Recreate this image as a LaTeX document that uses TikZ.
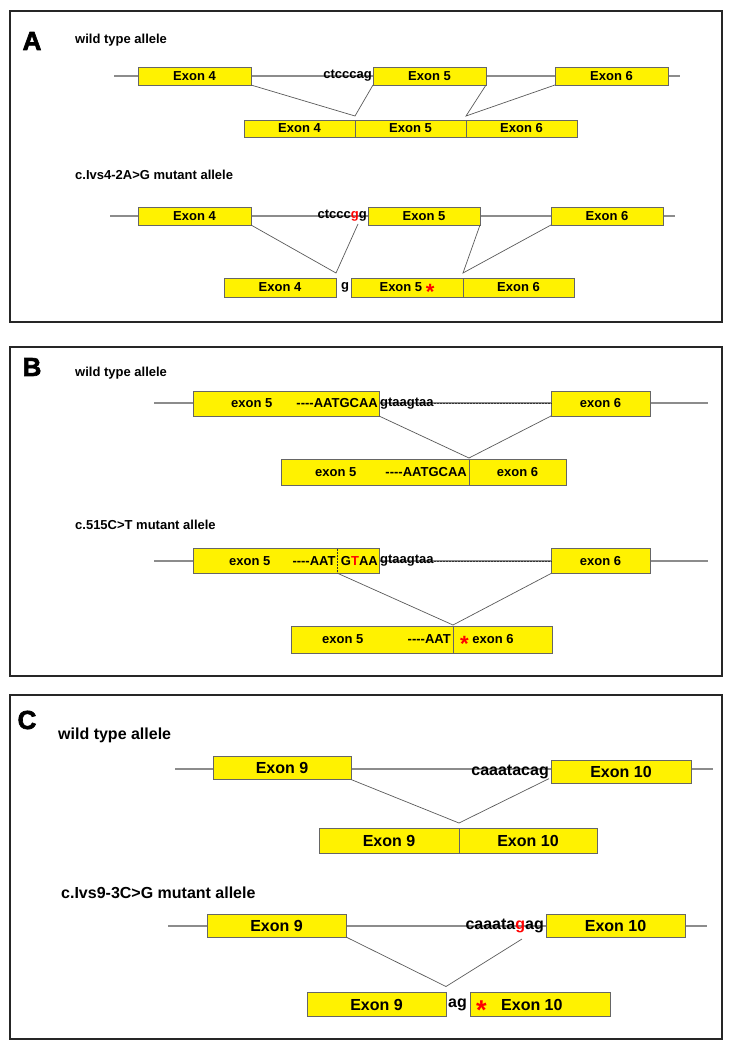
\documentclass[tikz,border=0pt]{standalone}
\usepackage{fontspec}
\setmainfont{Liberation Sans}
\newfontfamily\heavyfont{Liberation Sans Bold}[FakeBold=2.5]
\usetikzlibrary{positioning}
\newcommand{\redstar}{\textcolor{red}{\raisebox{-1.15ex}[0pt][0pt]{\scalebox{1.7}{*}}}}

\begin{document}
\begin{tikzpicture}[x=1pt, y=-1pt,
  panel/.style={draw=black!85, line width=1.3pt},
  intron/.style={draw=black!45, line width=1.2pt},
  splice/.style={draw=black!65, line width=0.7pt},
  dots/.style={draw=black!80, line width=0.8pt, dash pattern=on 2pt off 1pt},
  exon/.style={draw=black!60, fill=yellow, line width=0.8pt, inner sep=0pt, outer sep=0pt,
               minimum height=18pt, font=\fontsize{13}{15}\selectfont\bfseries},
  exonC/.style={exon, minimum height=23pt, font=\fontsize{16}{18}\selectfont\bfseries},
  txt/.style={inner sep=0pt, font=\fontsize{13}{15}\selectfont\bfseries},
  big/.style={inner sep=0pt, font=\fontsize{16}{18}\selectfont\bfseries},
  letter/.style={inner sep=0pt, font=\fontsize{26}{26}\selectfont\heavyfont},
  ]
\useasboundingbox (0,0) rectangle (733,1049);

% ---------------- panel A
\draw[panel] (10,11) rectangle (722,322);
\node[letter] (labA) at (32,41) {A};
\node[txt, anchor=west] (wtA) at (75,40) {wild type allele};
\coordinate (a1l) at (114,76);
\coordinate (a1r) at (680,76);
\draw[intron] (a1l) -- (a1r);
\node[exon, minimum width=113pt] (a14) at (194.5,76) {Exon 4};
\node[exon, minimum width=113pt] (a15) at (429.5,76) {Exon 5};
\node[exon, minimum width=113pt] (a16) at (611.5,76) {Exon 6};
\node[txt, left=1pt of a15] (a1seq) {ctcccag};
\node[exon, minimum width=111pt, minimum height=17pt] (s14) at (299.5,128.5) {Exon 4};
\node[exon, minimum width=111pt, minimum height=17pt, right=0pt of s14] (s15) {Exon 5};
\node[exon, minimum width=111pt, minimum height=17pt, right=0pt of s15] (s16) {Exon 6};
\draw[splice] (a14.south east) -- ([yshift=4pt]s14.north east) -- (a15.south west);
\draw[splice] (a15.south east) -- ([yshift=4pt]s15.north east) -- (a16.south west);

\node[txt, anchor=west] (mutA) at (75,175) {c.Ivs4-2A>G mutant allele};
\coordinate (a2l) at (110,216);
\coordinate (a2r) at (675,216);
\draw[intron] (a2l) -- (a2r);
\node[exon, minimum width=113pt] (m14) at (194.5,216) {Exon 4};
\node[exon, minimum width=112pt] (m15) at (424,216) {Exon 5};
\node[exon, minimum width=112pt] (m16) at (607,216) {Exon 6};
\node[txt, left=1pt of m15] (a2seq) {ctccc\textcolor{red}{g}g};
\coordinate (a2mut) at (358,224);
\node[exon, minimum width=112pt, minimum height=19pt] (t14) at (280,287.5) {Exon 4};
\node[txt, right=5pt of t14] (a2g) {g};
\node[exon, minimum width=112pt, minimum height=19pt] (t15) at (407,287.5) {Exon 5 \redstar};
\node[exon, minimum width=111pt, minimum height=19pt, right=0pt of t15] (t16) {Exon 6};
\draw[splice] (m14.south east) -- ([yshift=5pt]t14.north east) -- (a2mut);
\draw[splice] (m15.south east) -- ([yshift=5pt]t15.north east) -- (m16.south west);

% ---------------- panel B
\draw[panel] (10,347) rectangle (722,676);
\node[letter] (labB) at (32,367) {B};
\node[txt, anchor=west] (wtB) at (75,373) {wild type allele};
\coordinate (b1l) at (154,403);
\coordinate (b1r) at (708,403);
\draw[intron] (b1l) -- (b1r);
\node[exon, minimum width=186pt, minimum height=25pt] (b15) at (286,403.5) {};
\node[exon, minimum width=99pt, minimum height=25pt] (b16) at (600.5,403.5) {exon 6};
\node[txt, right=38pt of b15.west] (b1ex) {exon 5};
\node[txt, left=1pt of b15.east] (b1seq) {-{}-{}-{}-AATGCAA};
\node[txt, right=1pt of b15.east] (b1int) {gtaagtaa};
\draw[dots] (b1int.east) -- (b16.west);
\node[exon, minimum width=188pt, minimum height=26pt] (c15) at (375,472) {};
\node[exon, minimum width=97pt, minimum height=26pt, right=0pt of c15] (c16) {exon 6};
\node[txt, right=34pt of c15.west] (c1ex) {exon 5};
\node[txt, left=2pt of c15.east] (c1seq) {-{}-{}-{}-AATGCAA};
\draw[splice] (b15.south east) -- ([yshift=1pt]c15.north east) -- (b16.south west);

\node[txt, anchor=west] (mutB) at (75,525) {c.515C>T mutant allele};
\coordinate (b2l) at (154,561);
\coordinate (b2r) at (708,561);
\draw[intron] (b2l) -- (b2r);
\node[exon, minimum width=186pt, minimum height=25pt] (d15) at (286,561) {};
\node[exon, minimum width=99pt, minimum height=25pt] (d16) at (600.5,561) {exon 6};
\node[txt, right=36pt of d15.west] (d1ex) {exon 5};
\node[txt, left=1pt of d15.east] (d1mut) {G\textcolor{red}{T}AA};
\node[txt, left=5pt of d1mut] (d1seq) {-{}-{}-{}-AAT};
\coordinate (d1cuttop) at (337,549);
\coordinate (d1cut) at (337,573);
\draw[dots] (d1cuttop) -- (d1cut);
\node[txt, right=1pt of d15.east] (d1int) {gtaagtaa};
\draw[dots] (d1int.east) -- (d16.west);
\node[exon, minimum width=162pt, minimum height=27pt] (e15) at (372,639.5) {};
\node[exon, minimum width=99pt, minimum height=27pt, right=0pt of e15] (e16) {};
\node[txt, right=31pt of e15.west] (e1ex) {exon 5};
\node[txt, left=2pt of e15.east] (e1seq) {-{}-{}-{}-AAT};
\node[txt, right=7pt of e16.west] (e1ex6) {\redstar\ exon 6};
\draw[splice] (d1cut) -- ([yshift=1pt]e15.north east) -- (d16.south west);

% ---------------- panel C
\draw[panel] (10,695) rectangle (722,1039);
\node[letter] (labC) at (27,720) {C};
\node[big, anchor=west] (wtC) at (58,735) {wild type allele};
\coordinate (c1l) at (175,769);
\coordinate (c1r) at (713,769);
\draw[intron] (c1l) -- (c1r);
\node[exonC, minimum width=138pt] (f19) at (282,768) {Exon 9};
\node[exonC, minimum width=140pt] (f110) at (621,771.5) {Exon 10};
\node[big, left=2pt of f110] (f1seq) {caaatacag};
\node[exonC, minimum width=140pt, minimum height=25pt] (g19) at (389,840.5) {Exon 9};
\node[exonC, minimum width=138pt, minimum height=25pt, right=0pt of g19] (g110) {Exon 10};
\draw[splice] (f19.south east) -- ([yshift=5pt]g19.north east) -- (f1seq.south east);

\node[big, anchor=west] (mutC) at (61,893) {c.Ivs9-3C>G mutant allele};
\coordinate (c2l) at (168,926);
\coordinate (c2r) at (707,926);
\draw[intron] (c2l) -- (c2r);
\node[exonC, minimum width=139pt] (h19) at (276.5,925.5) {Exon 9};
\node[exonC, minimum width=139pt] (h110) at (615.5,925.5) {Exon 10};
\node[big, left=2pt of h110] (h1seq) {caaata\textcolor{red}{g}ag};
\coordinate (c2mut) at (522,939);
\node[exonC, minimum width=139pt, minimum height=24pt] (i19) at (376.5,1004.5) {Exon 9};
\node[big, right=2pt of i19] (i1ag) {ag};
\node[exonC, minimum width=140pt, minimum height=24pt] (i110) at (540,1004.5) {};
\node[big, right=6pt of i110.west] (i1ex) {\redstar\hspace{0.9em}Exon 10};
\draw[splice] (h19.south east) -- ([yshift=6pt]i19.north east) -- (c2mut);
\end{tikzpicture}
\end{document}
